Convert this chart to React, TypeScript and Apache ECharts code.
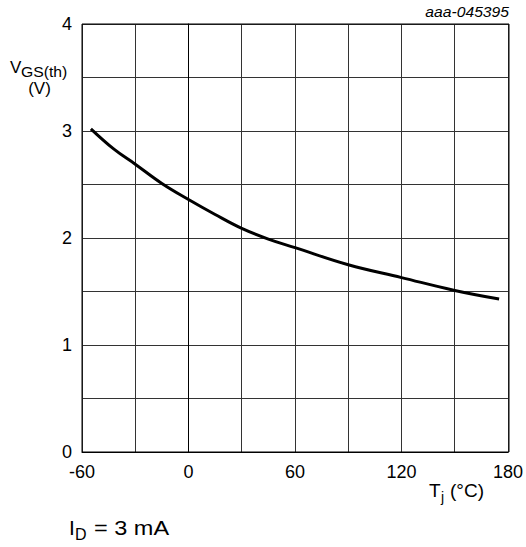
import React, { useEffect, useRef } from "react";
import * as echarts from "echarts";

const tempC = [-55, -42, -30, -15, 0, 15, 30, 45, 60, 90, 120, 150, 175];
const vgsTh = [3.02, 2.83, 2.69, 2.51, 2.36, 2.22, 2.09, 1.99, 1.91, 1.75, 1.63, 1.51, 1.43];
const xTickLabels = [-60, 0, 60, 120, 180];
const yTickLabels = [0, 1, 2, 3, 4];

const FONT = "Liberation Sans, Arial, sans-serif";

export default function App() {
  const ref = useRef<HTMLDivElement>(null);
  useEffect(() => {
    if (!ref.current) return;
    const chart = echarts.init(ref.current, undefined, { renderer: "svg" });
    const data = tempC.map((t, i) => [t, vgsTh[i]]);
    const txt = (text: string, x: number, y: number, size: number, extra: any = {}) => ({
      type: "text",
      x,
      y,
      scaleX: extra.scaleX ?? 1,
      style: {
        text,
        font: `${extra.italic ? "italic " : ""}${size}px ${FONT}`,
        fill: "#000",
        align: extra.align ?? "left",
        verticalAlign: "middle",
      },
    });
    chart.setOption({
      animation: false,
      backgroundColor: "#fff",
      grid: { left: 82, right: 17, top: 24, bottom: 95, containLabel: false },
      xAxis: {
        type: "value",
        min: -60,
        max: 180,
        interval: 30,
        axisLine: { show: true, lineStyle: { color: "#000", width: 1 } },
        axisTick: { show: false },
        splitLine: { show: true, lineStyle: { color: "#333", width: 1 } },
        axisLabel: {
          color: "#000",
          fontSize: 18,
          fontFamily: FONT,
          margin: 11,
          formatter: (v: number) => (xTickLabels.includes(v) ? String(v) : ""),
        },
      },
      yAxis: {
        type: "value",
        min: 0,
        max: 4,
        interval: 0.5,
        axisLine: { show: true, lineStyle: { color: "#000", width: 1 } },
        axisTick: { show: false },
        splitLine: { show: true, lineStyle: { color: "#333", width: 1 } },
        axisLabel: {
          color: "#000",
          fontSize: 18,
          fontFamily: FONT,
          margin: 10,
          formatter: (v: number) => (yTickLabels.includes(v) ? String(v) : ""),
        },
      },
      series: [
        {
          type: "line",
          data,
          smooth: 0.4,
          symbol: "none",
          lineStyle: { color: "#000", width: 3 },
        },
      ],
      graphic: [
        {
          type: "rect",
          shape: { x: 82, y: 24, width: 427, height: 428 },
          style: { fill: "none", stroke: "#000", lineWidth: 1 },
          silent: true,
          z: 10,
        },
        txt("aaa-045395", 509, 12, 14, { italic: true, align: "right", scaleX: 1.12 }),
        txt("V", 10, 67, 17),
        txt("GS(th)", 21, 71.5, 15, { scaleX: 1.05 }),
        txt("(V)", 39.5, 88.5, 17, { align: "center" }),
        txt("T", 429, 490, 19),
        txt("j", 441, 497, 14),
        txt("(°C)", 450, 490, 19),
        txt("I", 69, 527.5, 21),
        txt("D", 75, 534, 16),
        txt("= 3 mA", 94, 527.5, 21, { scaleX: 1.12 }),
      ],
    });
    return () => chart.dispose();
  }, []);
  return <div ref={ref} style={{ width: 526, height: 547, position: "absolute", left: 0, top: 0 }} />;
}
